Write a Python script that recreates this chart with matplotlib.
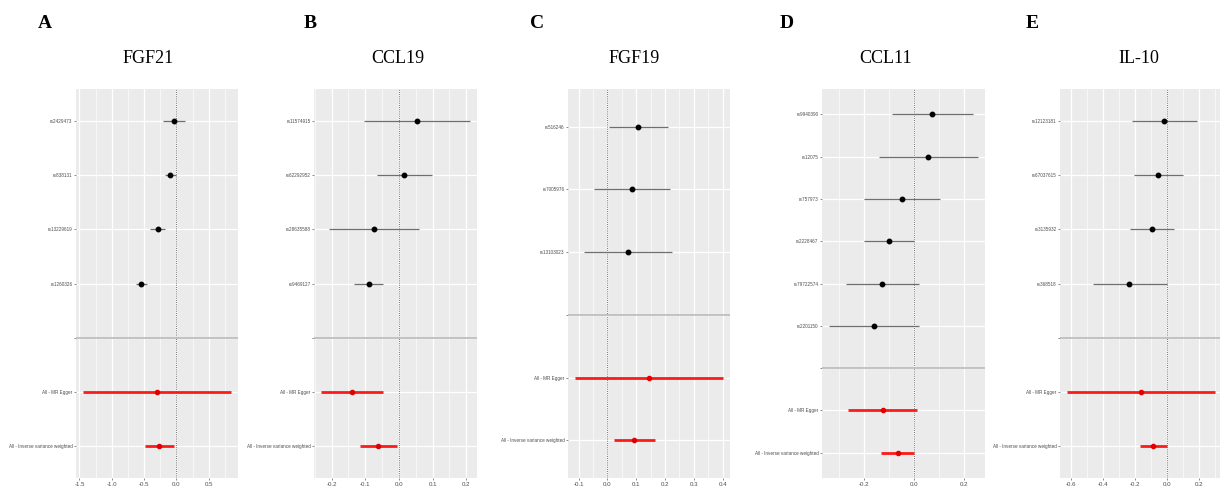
import numpy as np
import matplotlib
matplotlib.use('Agg')
from matplotlib import pyplot as plt
from matplotlib.ticker import FixedLocator


# single SNP estimates with 95% CI, plus the two summary methods [b, lo, hi]

# FGF21
snpA = ['rs2429473', 'rs838131', 'rs13229619', 'rs1260326']
bA = [-0.04, -0.10, -0.29, -0.54]
loA = [-0.21, -0.18, -0.41, -0.63]
hiA = [0.14, -0.005, -0.17, -0.45]
eggerA = [-0.30, -1.44, 0.84]
ivwA = [-0.27, -0.48, -0.04]

# CCL19
snpB = ['rs11574915', 'rs62292952', 'rs28635588', 'rs9469127']
bB = [0.053, 0.015, -0.074, -0.090]
loB = [-0.104, -0.066, -0.207, -0.133]
hiB = [0.210, 0.098, 0.061, -0.047]
eggerB = [-0.140, -0.230, -0.048]
ivwB = [-0.062, -0.116, -0.005]

# FGF19
snpC = ['rs516246', 'rs7005976', 'rs13103023']
bC = [0.108, 0.086, 0.072]
loC = [0.006, -0.046, -0.081]
hiC = [0.211, 0.219, 0.226]
eggerC = [0.145, -0.111, 0.400]
ivwC = [0.094, 0.023, 0.166]

# CCL11
snpD = ['rs9940390', 'rs12075', 'rs757973', 'rs2228467', 'rs79722574', 'rs2201150']
bD = [0.071, 0.056, -0.050, -0.102, -0.129, -0.160]
loD = [-0.091, -0.140, -0.201, -0.201, -0.275, -0.340]
hiD = [0.235, 0.254, 0.103, 0.001, 0.019, 0.021]
eggerD = [-0.126, -0.266, 0.011]
ivwD = [-0.067, -0.134, 0.000]

# IL-10
snpE = ['rs12123181', 'rs67037615', 'rs3135932', 'rs368518']
bE = [-0.017, -0.052, -0.091, -0.233]
loE = [-0.214, -0.202, -0.227, -0.459]
hiE = [0.187, 0.100, 0.046, 0.000]
eggerE = [-0.160, -0.620, 0.299]
ivwE = [-0.085, -0.168, 0.000]

ticksA = [-1.5, -1.0, -0.5, 0.0, 0.5]
ticksB = [-0.2, -0.1, 0.0, 0.1, 0.2]
ticksC = [-0.1, 0.0, 0.1, 0.2, 0.3, 0.4]
ticksD = [-0.2, 0.0, 0.2]
ticksE = [-0.6, -0.4, -0.2, 0.0, 0.2]

letters = ['A', 'B', 'C', 'D', 'E']
titles = ['FGF21', 'CCL19', 'FGF19', 'CCL11', 'IL-10']

W, H = 1220, 491
# panel left/right edges in pixels
edges = [(76, 238), (314, 477), (568, 730), (822, 985), (1060, 1222)]
letter_x = [45, 310, 537, 787, 1032]
title_x = [148, 398, 634, 886, 1139]
ptop, pbot = 89, 478

grey30 = '#4D4D4D'


def forest(ax, snps, b, lo, hi, egger, ivw, ticks):
    n = len(snps)
    ys = np.arange(n)
    ax.set_facecolor('#EBEBEB')
    ax.set_axisbelow(True)

    ax.axvline(0, color='#444444', lw=0.6, ls=(0, (1, 1.6)), zorder=2)
    ax.hlines(ys, lo, hi, color='#6F6F6F', lw=0.9, zorder=3)
    ax.plot(b, ys, 'o', color='black', ms=3.2, zorder=4)
    ax.axhline(n, color='#BEBEBE', lw=1.3, zorder=2)
    ax.hlines([n + 1, n + 2], [egger[1], ivw[1]], [egger[2], ivw[2]],
              color='#FF1A1A', lw=2.0, zorder=3)
    ax.plot([egger[0], ivw[0]], [n + 1, n + 2], 'o', color='#E00000', ms=3.0, zorder=4)

    # ggplot style 5% expansion of the data range
    xmin = min(min(lo), egger[1], ivw[1])
    xmax = max(max(hi), egger[2], ivw[2])
    pad = 0.05 * (xmax - xmin)
    ax.set_xlim(xmin - pad, xmax + pad)
    ax.set_ylim(n + 2 + 0.6, -0.6)

    step = ticks[1] - ticks[0]
    minors = np.arange(ticks[0] - step / 2, ticks[-1] + step, step)
    ax.xaxis.set_major_locator(FixedLocator(ticks))
    ax.xaxis.set_minor_locator(FixedLocator(minors))
    ax.set_xticklabels(['%.1f' % t for t in ticks])
    ax.set_yticks(list(range(n + 3)))
    ax.set_yticklabels(snps + ['', 'All - MR Egger', 'All - Inverse variance weighted'])

    ax.grid(which='major', color='white', lw=0.9)
    ax.grid(which='minor', axis='x', color='white', lw=0.45)
    for s in ax.spines.values():
        s.set_visible(False)
    ax.tick_params(axis='both', which='major', length=1.6, width=0.4, color='#333333', pad=1)
    ax.tick_params(axis='x', which='minor', length=0)
    ax.tick_params(axis='x', labelsize=4.4, labelcolor=grey30)
    ax.tick_params(axis='y', labelsize=3.3, labelcolor=grey30)
    for lab in ax.get_xticklabels() + ax.get_yticklabels():
        lab.set_family('Liberation Sans')


plt.rcParams['font.family'] = 'Liberation Sans'
fig = plt.figure(figsize=(W / 100, H / 100), dpi=100)
fig.patch.set_facecolor('white')

data = [(snpA, bA, loA, hiA, eggerA, ivwA, ticksA),
        (snpB, bB, loB, hiB, eggerB, ivwB, ticksB),
        (snpC, bC, loC, hiC, eggerC, ivwC, ticksC),
        (snpD, bD, loD, hiD, eggerD, ivwD, ticksD),
        (snpE, bE, loE, hiE, eggerE, ivwE, ticksE)]

for i, d in enumerate(data):
    l, r = edges[i]
    ax = fig.add_axes([l / W, (H - pbot) / H, (r - l) / W, (pbot - ptop) / H])
    forest(ax, *d)
    fig.text(letter_x[i] / W, 1 - 23.5 / H, letters[i], family='Liberation Serif',
             weight='bold', fontsize=14, ha='center', va='center')
    fig.text(title_x[i] / W, 1 - 58.5 / H, titles[i], family='Liberation Serif',
             fontsize=13, ha='center', va='center')

fig.savefig('out.png', dpi=100)
